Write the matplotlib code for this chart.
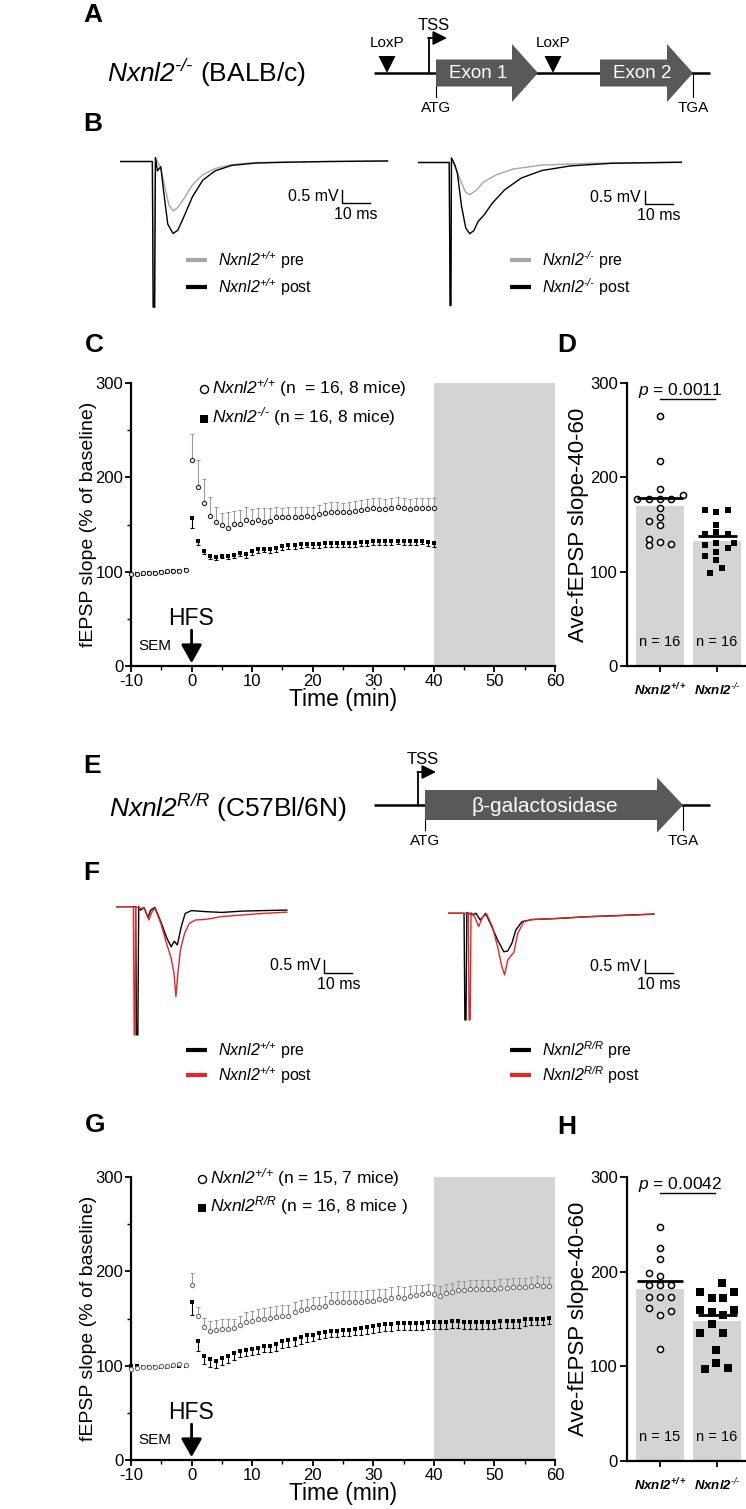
import numpy as np
import matplotlib
matplotlib.use('Agg')
import matplotlib.pyplot as plt
from matplotlib.patches import Polygon

plt.rcParams['font.family'] = ['Liberation Sans', 'DejaVu Sans']
plt.rcParams['axes.unicode_minus'] = False
# math is only used for the italic gene names, so make its roman font italic too
plt.rcParams['mathtext.fontset'] = 'custom'
plt.rcParams['mathtext.rm'] = 'Liberation Sans:italic'
plt.rcParams['mathtext.it'] = 'Liberation Sans:italic'
plt.rcParams['mathtext.bf'] = 'Liberation Sans:bold:italic'

# ---------------- data ----------------
# example traces, time (ms) and voltage (mV)
b_wt_pre_t = [0, 11.7, 12.0, 12.5, 12.8, 14.7, 16.2, 17.6, 19.1, 20.8, 23.1, 26.0, 29.7, 34.1, 40.0, 48.7, 95.7]
b_wt_pre_v = [0, 0, -5.6, -5.6, 0.15, -0.25, -1.0, -1.67, -1.9, -1.77, -1.41, -0.9, -0.51, -0.27, -0.12, -0.04, 0.02]
b_wt_post_t = [0, 11.7, 12.0, 12.5, 12.8, 13.5, 14.7, 15.7, 17.2, 19.1, 20.8, 23.1, 26.0, 29.7, 34.1, 40.0, 48.7, 59.0, 73.6, 95.7]
b_wt_post_v = [0, 0, -5.6, -5.6, 0.15, -0.36, -0.2, -1.13, -2.41, -2.77, -2.64, -2.09, -1.36, -0.72, -0.36, -0.15, -0.06, -0.03, 0, 0.02]
b_ko_pre_t = [0, 11.3, 11.6, 11.9, 12.1, 13.6, 15.7, 17.2, 18.6, 20.8, 23.8, 28.2, 34.1, 44.3, 61.9, 94.2]
b_ko_pre_v = [0, 0, -5.5, -5.5, 0.17, -0.22, -0.79, -1.15, -1.24, -1.08, -0.73, -0.47, -0.25, -0.1, -0.03, 0.01]
b_ko_post_t = [0, 11.3, 11.6, 11.9, 12.1, 13.3, 14.2, 15.7, 17.2, 18.6, 20.1, 21.6, 23.8, 26.7, 31.1, 37.0, 44.3, 54.6, 69.3, 94.2]
b_ko_post_v = [0, 0, -5.5, -5.5, 0.17, -0.09, -0.41, -1.69, -2.52, -2.74, -2.62, -2.27, -2.01, -1.56, -1.05, -0.6, -0.31, -0.13, -0.03, 0.01]

f_wt_pre_t = [0, 6.9, 7.2, 7.7, 8.0, 8.7, 9.9, 11.3, 12.3, 13.8, 15.9, 18.1, 19.6, 20.7, 21.8, 23.2, 24.6, 26.8, 31.9, 37.7, 44.9, 52.2, 60.9]
f_wt_pre_v = [0, 0, -4.93, -4.93, 0, -0.13, -0.03, -0.41, -0.13, -0.03, -0.58, -1.22, -1.54, -1.33, -1.47, -0.77, -0.26, -0.15, -0.19, -0.22, -0.17, -0.15, -0.13]
f_wt_post_t = [0, 6.1, 6.4, 6.7, 6.9, 8.7, 9.9, 11.6, 12.8, 13.8, 15.9, 18.1, 19.6, 20.6, 21.3, 22.0, 22.9, 24.4, 26.1, 28.3, 31.9, 37.7, 44.9, 52.2, 60.9]
f_wt_post_v = [0, 0, -4.93, -4.93, 0, -0.08, -0.03, -0.51, -0.19, -0.06, -0.64, -1.47, -1.98, -2.56, -3.46, -2.56, -1.67, -1.02, -0.64, -0.51, -0.49, -0.38, -0.32, -0.26, -0.21]
f_rr_pre_t = [0, 5.8, 6.1, 6.5, 6.8, 8.7, 10.1, 11.6, 13.5, 15.7, 17.8, 20.0, 21.4, 22.9, 24.3, 26.5, 30.1, 38.8, 50.4, 62.0, 73.6]
f_rr_pre_v = [0, 0, -4.1, -4.1, 0.03, -0.06, 0, -0.26, 0, -0.51, -1.03, -1.48, -1.45, -1.15, -0.64, -0.32, -0.24, -0.2, -0.13, -0.08, -0.03]
f_rr_post_t = [0, 7.3, 7.6, 8.0, 8.3, 9.6, 11.0, 12.5, 13.9, 15.9, 17.8, 19.3, 20.3, 21.4, 22.6, 23.6, 25.0, 27.2, 30.1, 38.8, 50.4, 62.0, 73.6]
f_rr_post_v = [0, 0, -4.1, -4.1, 0.03, -0.13, -0.51, -0.13, -0.03, -0.51, -1.28, -2.05, -2.37, -1.8, -1.63, -1.5, -0.77, -0.32, -0.24, -0.2, -0.13, -0.09, -0.03]

# time course (min)
t_base = [-10, -9, -8, -7, -6, -5, -4, -3, -2, -1]
c_t_post = list(range(0, 41))
g_t_post = list(range(0, 60))

c_wt_base = [98, 98, 99, 99, 99, 100, 101, 101, 101, 102]
c_ko_base = [98, 98, 98, 99, 99, 100, 100, 101, 101, 102]
c_wt = [218, 190, 173, 159, 153, 149, 146, 151, 151, 155,
        153, 155, 153, 154, 158, 158, 158, 158, 158, 159,
        158, 161, 162, 163, 163, 163, 163, 164, 165, 166,
        167, 166, 166, 167, 169, 167, 166, 168, 168, 168,
        168]
c_wt_err = [28, 28, 25, 20, 16, 13, 17, 13, 14, 14,
            13, 12, 14, 13, 11, 10, 11, 11, 11, 10,
            11, 10, 11, 11, 11, 10, 11, 11, 11, 11,
            11, 12, 11, 11, 10, 11, 11, 10, 10, 10,
            10]
c_ko = [157, 133, 122, 117, 116, 117, 117, 118, 120, 119,
        122, 124, 124, 124, 125, 127, 128, 128, 129, 129,
        129, 129, 130, 130, 130, 130, 130, 130, 131, 131,
        132, 132, 132, 132, 133, 132, 132, 132, 133, 131,
        130]
c_ko_err = [11, 5, 3, 4, 4, 3, 4, 4, 3, 4,
            4, 4, 3, 4, 4, 4, 4, 4, 4, 3,
            4, 4, 4, 4, 4, 4, 4, 4, 4, 4,
            4, 4, 4, 4, 4, 4, 4, 4, 4, 4,
            4]

g_wt_base = [96, 97, 99, 99, 99, 100, 100, 101, 102, 101]
g_ko_base = [100, 100, 99, 99, 99, 99, 99, 100, 100, 100]
g_wt = [186, 153, 141, 137, 138, 139, 139, 140, 143, 146,
        147, 149, 150, 151, 152, 153, 153, 157, 159, 160,
        162, 162, 163, 168, 168, 168, 168, 168, 168, 169,
        169, 171, 170, 172, 173, 172, 174, 175, 176, 177,
        176, 174, 177, 178, 180, 180, 181, 181, 181, 181,
        181, 182, 182, 183, 183, 183, 184, 185, 184, 184]
g_wt_err = [12, 9, 10, 10, 10, 10, 10, 10, 10, 11,
            11, 11, 11, 11, 11, 11, 11, 11, 11, 11,
            11, 11, 11, 10, 10, 11, 11, 11, 11, 11,
            11, 10, 11, 11, 11, 11, 10, 10, 10, 10,
            10, 10, 10, 10, 10, 10, 10, 10, 10, 10,
            10, 10, 10, 10, 10, 10, 10, 10, 10, 10]
g_ko = [168, 126, 110, 107, 105, 108, 110, 113, 116, 117,
        118, 119, 121, 121, 123, 126, 127, 128, 130, 132,
        133, 135, 136, 137, 137, 138, 138, 139, 140, 141,
        142, 143, 144, 144, 145, 145, 145, 145, 145, 146,
        146, 146, 146, 147, 147, 146, 146, 146, 146, 146,
        146, 147, 147, 147, 147, 149, 150, 150, 150, 151]
g_ko_err = [14, 10, 8, 8, 7, 7, 7, 7, 7, 7,
            7, 7, 7, 7, 7, 7, 7, 7, 7, 7,
            7, 7, 7, 7, 7, 7, 7, 7, 7, 7,
            7, 7, 7, 7, 7, 7, 7, 7, 7, 7,
            7, 7, 7, 7, 7, 7, 7, 7, 7, 7,
            7, 7, 7, 7, 7, 7, 7, 7, 7, 7]

# averages 40-60 min
d_wt_vals = [265, 217, 188, 177, 177, 177, 177, 181, 167, 154, 158, 150, 135, 128, 131, 129]
d_ko_vals = [165, 163, 165, 149, 140, 142, 140, 128, 130, 130, 121, 125, 117, 112, 99, 104]
d_bars = [170, 132]
d_means = [178, 138]
h_wt_vals = [247, 225, 213, 199, 195, 186, 186, 186, 173, 173, 173, 162, 154, 158, 118]
h_ko_vals = [188, 179, 179, 172, 172, 159, 157, 154, 159, 145, 135, 135, 117, 104, 97, 98]
h_bars = [182, 148]
h_means = [190, 154]

# horizontal scatter of the dots (layout)
d_wt_off = [0, 0, 0, -0.41, -0.2, 0, 0.2, 0.41, 0, -0.2, 0, 0, -0.2, -0.2, 0, 0.2]
d_ko_off = [-0.21, -0.02, 0.19, -0.02, -0.21, -0.02, 0.19, -0.21, -0.02, 0.3, -0.02, 0.19, -0.21, -0.02, -0.12, 0.08]
h_wt_off = [0, 0, 0, -0.19, 0, -0.19, 0, 0.2, -0.19, 0, 0.2, -0.19, 0, 0.2, 0]
h_ko_off = [0.09, -0.3, 0.3, -0.09, 0.11, -0.3, -0.09, 0.11, 0.3, -0.09, -0.3, 0.11, -0.01, -0.01, -0.21, 0.2]

WT = r'$\mathit{Nxnl2}^{\text{+/+}}$'
KO = r'$\mathit{Nxnl2}^{\text{-/-}}$'
RR = r'$\mathit{Nxnl2}^{\text{R/R}}$'
NARROW = ['Liberation Sans Narrow', 'Liberation Sans']

# ---------------- figure ----------------
W, H = 746, 1509
fig = plt.figure(figsize=(W / 100, H / 100), dpi=100)


def px_axes(x0, y0, x1, y1):
    return fig.add_axes([x0 / W, 1 - y1 / H, (x1 - x0) / W, (y1 - y0) / H])


ov = fig.add_axes([0, 0, 1, 1], zorder=10)
ov.set_xlim(0, W)
ov.set_ylim(H, 0)
ov.axis('off')

# panel letters
for s, x, y in [('A', 83, 3), ('B', 83, 112), ('C', 85, 333), ('D', 557, 333),
                ('E', 83, 754), ('F', 83, 861), ('G', 85, 1113), ('H', 557, 1115)]:
    ov.text(x, y, s, fontsize=19, fontweight='bold', ha='left', va='top')


def exon(x0, x1, xtip, yc, hb, hh, label, fs, xt):
    pts = [(x0, yc - hb), (x1, yc - hb), (x1, yc - hh), (xtip, yc),
           (x1, yc + hh), (x1, yc + hb), (x0, yc + hb)]
    ov.add_patch(Polygon(pts, closed=True, fc='#595959', ec='none', zorder=3))
    ov.text(xt, yc + 1, label, color='white', ha='center', va='center', fontsize=fs, zorder=4)


def loxp(xc, y_line):
    ov.add_patch(Polygon([(xc - 8.5, y_line - 17), (xc + 8.5, y_line - 17), (xc, y_line)],
                         closed=True, fc='k', ec='none', zorder=4))
    ov.text(xc, y_line - 30, 'LoxP', ha='center', va='center', fontsize=11, family=NARROW)


def tss(x, y_line, y_top, x_end, y_text):
    ov.plot([x, x], [y_line, y_top], color='k', lw=1.3)
    ov.annotate('', xy=(x_end, y_top), xytext=(x - 0.6, y_top),
                arrowprops=dict(arrowstyle='-|>,head_width=0.35,head_length=0.7', color='k',
                                lw=1.3, shrinkA=0, shrinkB=0, mutation_scale=12))
    ov.text(x + 5, y_text, 'TSS', ha='center', va='center', fontsize=12, family=NARROW)


def codon(x, y_line, y_end, label):
    ov.plot([x, x], [y_line, y_end], color='k', lw=0.8)
    ov.text(x, y_end + 11, label, ha='center', va='center', fontsize=11, family=NARROW)


# panel A gene map
ov.text(107, 73, KO + ' (BALB/c)', fontsize=19, ha='left', va='center')
ov.plot([374, 710], [73, 73], color='k', lw=1.8, solid_capstyle='butt')
loxp(387, 73)
loxp(553, 73)
exon(436, 512, 538, 73, 13.5, 29, 'Exon 1', 13.5, 478)
exon(600, 667, 693, 73, 13.5, 29, 'Exon 2', 13.5, 642)
tss(428.6, 73, 38, 447, 25)
codon(436, 73, 97, 'ATG')
codon(693, 73, 97, 'TGA')

# panel E gene map
ov.text(109, 808, RR + ' (C57Bl/6N)', fontsize=19, ha='left', va='center')
ov.plot([374, 710], [805, 805], color='k', lw=1.8, solid_capstyle='butt')
exon(425, 657, 683, 805, 15, 27.5, '\u03b2-galactosidase', 15, 545)
tss(418, 805, 772, 436, 759)
codon(425, 805, 830, 'ATG')
codon(683, 805, 830, 'TGA')

# ---------------- traces ----------------
PX_MS, PX_MV = 2.8, 26.0
T_LIM, V_LIM = (0, 100), (-5.9, 0.8)


def trace_axes(x0, y0):
    ax = px_axes(x0 + T_LIM[0] * PX_MS, y0 - V_LIM[1] * PX_MV,
                 x0 + T_LIM[1] * PX_MS, y0 - V_LIM[0] * PX_MV)
    ax.set_xlim(*T_LIM)
    ax.set_ylim(*V_LIM)
    ax.axis('off')
    return ax


def scale_bar(ax, t, v):
    ax.plot([t, t, t + 10], [v + 0.5, v, v], color='k', lw=1.0, solid_joinstyle='miter')
    ax.text(t - 1.4, v + 0.27, '0.5 mV', ha='right', va='center', fontsize=11.5)
    ax.text(t + 5, v - 0.45, '10 ms', ha='center', va='center', fontsize=11.5)


def trace_legend(x, y1, y2, c1, c2, l1, l2):
    for y, c, l in [(y1, c1, l1), (y2, c2, l2)]:
        ov.plot([x, x + 21], [y, y], color=c, lw=3, solid_capstyle='butt')
        ov.text(x + 32, y, l, ha='left', va='center', fontsize=11.5)


GREY_TR = '#a6a6a6'
RED_TR = '#e3262a'

ax = trace_axes(119.6, 161.5)
ax.plot(b_wt_pre_t, b_wt_pre_v, color=GREY_TR, lw=1.0)
ax.plot(b_wt_post_t, b_wt_post_v, color='k', lw=1.0)
scale_bar(ax, 79.5, -1.6)

ax = trace_axes(417.6, 162.5)
ax.plot(b_ko_pre_t, b_ko_pre_v, color=GREY_TR, lw=1.0)
ax.plot(b_ko_post_t, b_ko_post_v, color='k', lw=1.0)
scale_bar(ax, 81.2, -1.6)

trace_legend(186, 260, 287, GREY_TR, 'k', WT + ' pre', WT + ' post')
trace_legend(510, 260, 287, GREY_TR, 'k', KO + ' pre', KO + ' post')

ax = trace_axes(116.3, 906.7)
ax.plot(f_wt_pre_t, f_wt_pre_v, color='k', lw=1.0)
ax.plot(f_wt_post_t, f_wt_post_v, color=RED_TR, lw=1.0)
scale_bar(ax, 74.3, -2.55)

ax = trace_axes(447.8, 913.3)
ax.plot(f_rr_pre_t, f_rr_pre_v, color='k', lw=1.0)
ax.plot(f_rr_post_t, f_rr_post_v, color=RED_TR, lw=1.0)
scale_bar(ax, 70.4, -2.3)

trace_legend(186, 1050, 1075, 'k', RED_TR, WT + ' pre', WT + ' post')
trace_legend(510, 1050, 1075, 'k', RED_TR, RR + ' pre', RR + ' post')


# ---------------- time courses ----------------
def ltp_panel(box, wt_base, ko_base, t_post, wt, wt_err, ko, ko_err, wt_col, err_col, leg):
    ax = px_axes(*box)
    ax.axvspan(40, 60, color='#d4d4d4', lw=0, zorder=0)
    wt = np.array(wt)
    ko = np.array(ko)
    wt_top = wt + np.array(wt_err)
    ko_bot = ko - np.array(ko_err)
    ax.vlines(t_post, wt, wt_top, color=err_col, lw=0.8, zorder=2)
    ax.plot(t_post, wt_top, ls='none', marker='_', ms=3.5, mew=0.8, color=err_col, zorder=2)
    ax.vlines(t_post, ko_bot, ko, color='k', lw=0.8, zorder=2)
    ax.plot(t_post, ko_bot, ls='none', marker='_', ms=3.5, mew=0.8, color='k', zorder=2)
    ax.plot(t_base + list(t_post), list(ko_base) + list(ko), ls='none', marker='s', ms=2.8,
            color='k', mew=0, zorder=3, clip_on=False)
    ax.plot(t_base + list(t_post), list(wt_base) + list(wt), ls='none', marker='o', ms=3.0,
            mfc='white', mec=wt_col, mew=0.8, zorder=4, clip_on=False)

    ax.set_xlim(-10, 60)
    ax.set_ylim(0, 300)
    for s in ['top', 'right']:
        ax.spines[s].set_visible(False)
    for s in ['left', 'bottom']:
        ax.spines[s].set_linewidth(1.6)
    ax.set_xticks(range(-10, 61, 10))
    ax.set_xticks(range(-5, 60, 10), minor=True)
    ax.set_yticks([0, 100, 200, 300])
    ax.set_yticks([50, 150, 250], minor=True)
    ax.tick_params(which='major', length=4, width=1.3, labelsize=12, pad=1.5)
    ax.tick_params(which='minor', length=3, width=1.0)
    ax.text(-0.101, 0.5, 'fEPSP slope (% of baseline)', transform=ax.transAxes, rotation=90,
            ha='center', va='center', fontsize=14)
    ax.text(0.5, -0.118, 'Time (min)', transform=ax.transAxes, ha='center', va='center', fontsize=16.5)

    ax.text(-0.1, 50, 'HFS', ha='center', va='center', fontsize=16.5)
    ax.annotate('', xy=(0, 3), xytext=(0, 38),
                arrowprops=dict(arrowstyle='-|>,head_width=0.45,head_length=0.8', lw=2, color='k',
                                shrinkA=0, shrinkB=0, mutation_scale=14))
    ax.text(-6, 21, 'SEM', ha='center', va='center', fontsize=11)

    # legend
    (x, y1, y2), (l1, l2) = leg
    ov.plot([x], [y1 + 1], marker='o', ms=5.8, mfc='white', mec='k', mew=1.0)
    ov.plot([x], [y2 + 2], marker='s', ms=5.8, color='k', mew=0)
    ov.text(x + 7.5, y1, l1, ha='left', va='center', fontsize=12.5)
    ov.text(x + 7.5, y2, l2, ha='left', va='center', fontsize=12.5)
    return ax


ltp_panel((131, 383, 555, 666), c_wt_base, c_ko_base, c_t_post, c_wt, c_wt_err, c_ko, c_ko_err,
          '#222222', '#9a9a9a',
          ((204, 388, 417), (WT + ' (n  = 16, 8 mice)', KO + ' (n = 16, 8 mice)')))
ltp_panel((131, 1177, 555, 1460), g_wt_base, g_ko_base, g_t_post, g_wt, g_wt_err, g_ko, g_ko_err,
          '#6e6e6e', '#9a9a9a',
          ((202, 1178, 1206), (WT + ' (n = 15, 7 mice)', RR + ' (n = 16, 8 mice )')))


# ---------------- bar panels ----------------
def bar_panel(box, wt_vals, wt_off, ko_vals, ko_off, bars, means, ns, ptext, wt_ms, ko_ms):
    ax = px_axes(*box)
    ax.set_xlim(-0.58, 1.51)
    ax.set_ylim(0, 300)
    ax.bar([0, 1], bars, width=0.84, color='#d4d4d4', zorder=1)
    ax.plot(np.array(wt_off), wt_vals, ls='none', marker='o', ms=wt_ms, mfc='white', mec='k',
            mew=1.1, zorder=3)
    ax.plot(1 + np.array(ko_off), ko_vals, ls='none', marker='s', ms=ko_ms, color='k', mew=0,
            zorder=3, clip_on=False)
    ax.hlines(means, [-0.4, 0.66], [0.4, 1.36], color='k', lw=2, zorder=4)
    for i, n in enumerate(ns):
        ax.text(i, 25, 'n = %d' % n, ha='center', va='center', fontsize=10.5)
    ax.plot([0, 0.97], [283, 283], color='k', lw=1.0, clip_on=False)
    ax.text(0.35, 292, ptext, ha='center', va='center', fontsize=12.5)

    for s in ['top', 'right']:
        ax.spines[s].set_visible(False)
    for s in ['left', 'bottom']:
        ax.spines[s].set_linewidth(1.6)
    ax.set_yticks([0, 100, 200, 300])
    ax.set_xticks([0, 1])
    ax.set_xticklabels([r'$\mathbf{Nxnl2}^{\mathbf{+/+}}$',
                        r'$\mathbf{Nxnl2}^{\text{-/-}}$'], fontsize=9.5)
    ax.tick_params(axis='y', length=5, width=1.3, labelsize=12, pad=1.5)
    ax.tick_params(axis='x', length=4, width=1.3, pad=7)
    ax.text(-0.41, 0.5, 'Ave-fEPSP slope-40-60', transform=ax.transAxes, rotation=90,
            ha='center', va='center', fontsize=16)
    return ax


bar_panel((627, 383, 746, 666), d_wt_vals, d_wt_off, d_ko_vals, d_ko_off, d_bars, d_means,
          [16, 16], r'$p$ = 0.0011', 4.4, 3.8)
bar_panel((627, 1177, 746, 1461), h_wt_vals, h_wt_off, h_ko_vals, h_ko_off, h_bars, h_means,
          [15, 16], r'$p$ = 0.0042', 4.4, 5.6)

fig.savefig('out.png', dpi=100)
